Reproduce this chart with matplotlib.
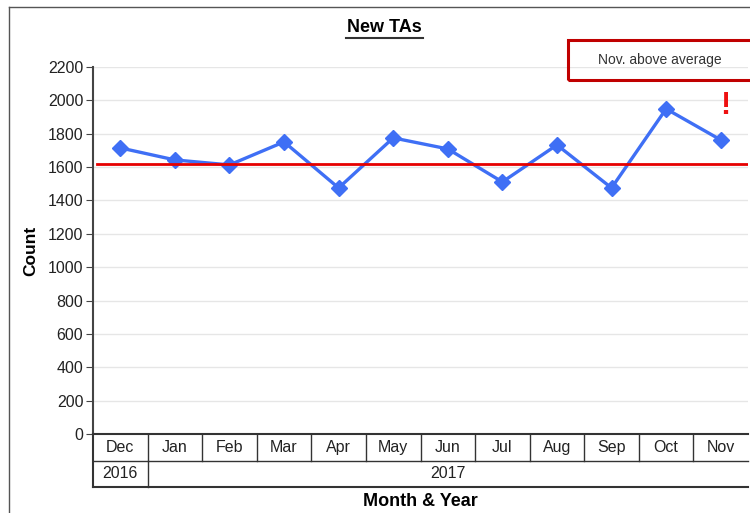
import matplotlib
matplotlib.use("Agg")
import matplotlib.pyplot as plt
from matplotlib.patches import Rectangle
from matplotlib.lines import Line2D

months = ["Dec", "Jan", "Feb", "Mar", "Apr", "May", "Jun", "Jul", "Aug", "Sep", "Oct", "Nov"]
years = ["2016", "2017"]
year_spans = [(0, 1), (1, 12)]   # month index ranges covered by each year
counts = [1715, 1643, 1613, 1751, 1475, 1775, 1709, 1511, 1733, 1475, 1949, 1763]
average = 1620
yticks = list(range(0, 2201, 200))

plt.rcParams['font.family'] = ['Liberation Sans', 'DejaVu Sans']

W, H = 750, 513
fig = plt.figure(figsize=(7.5, 5.13), dpi=100)

def fx(px):
    return px / W

def fy(py):
    return 1 - py / H

# outer frame of the screenshot
fig.add_artist(Line2D([fx(9), fx(9)], [fy(7), 0], color="#555555", lw=1))
fig.add_artist(Line2D([fx(9), 1], [fy(7), fy(7)], color="#555555", lw=1))

# main plot area
x0, x1, ytop, ybot = 93, 748, 67, 434
ax = fig.add_axes([fx(x0), fy(ybot), fx(x1 - x0), (ybot - ytop) / H])
xs = list(range(len(months)))
ax.plot(xs, counts, color="#3f6ff5", lw=2.4, marker="D", markersize=8.5, zorder=3)
ax.axhline(average, color="#e60000", lw=2, xmin=0.006, zorder=4)
ax.set_xlim(-0.5, len(months) - 0.5)
ax.set_ylim(0, 2200)
ax.set_yticks(yticks)
ax.set_yticklabels([str(v) for v in yticks], fontsize=11.5, color="#222222")
ax.tick_params(axis="y", length=5, color="#444444", pad=2)
ax.set_xticks([])
ax.grid(axis="y", color="#e6e6e6", lw=1)
ax.set_axisbelow(True)
for s in ["top", "right", "bottom"]:
    ax.spines[s].set_visible(False)
ax.spines["left"].set_color("#444444")
ax.spines["left"].set_linewidth(1.5)
ax.set_ylabel("Count", fontsize=12.5, fontweight="bold", labelpad=7)

# category table under the plot
tab = fig.add_axes([fx(x0), fy(487), fx(x1 - x0), (487 - ybot) / H])
tab.set_xlim(-0.5, len(months) - 0.5)
tab.set_ylim(0, 2)
tab.axis("off")
lc = "#333333"
tab.plot([-0.5, 11.5], [2, 2], color=lc, lw=1.5, clip_on=False)
tab.plot([-0.5, 11.5], [1, 1], color=lc, lw=1, clip_on=False)
tab.plot([-0.5, 11.5], [0, 0], color=lc, lw=1.5, clip_on=False)
tab.plot([-0.5, -0.5], [0, 2], color=lc, lw=1.5, clip_on=False)
for i in range(1, len(months)):
    tab.plot([i - 0.5, i - 0.5], [1, 2], color=lc, lw=1, clip_on=False)
for i, m in enumerate(months):
    tab.text(i, 1.5, m, ha="center", va="center", fontsize=11.5, color="#222222")
for (a, b), yr in zip(year_spans, years):
    if a > 0:
        tab.plot([a - 0.5, a - 0.5], [0, 1], color=lc, lw=1, clip_on=False)
    tab.text((a + b - 1) / 2, 0.5, yr, ha="center", va="center", fontsize=11.5, color="#222222")

fig.text(fx(420), fy(502), "Month & Year", ha="center", va="center", fontsize=13, fontweight="bold")

# title
fig.text(fx(384), fy(28), "New TAs", ha="center", va="center", fontsize=13, fontweight="bold")
fig.add_artist(Line2D([fx(346), fx(423)], [fy(38), fy(38)], color="#333333", lw=1.5))

# callout box
fig.add_artist(Rectangle((fx(568), fy(80)), fx(190), 40 / H, fill=False, edgecolor="#c00000", lw=2.2, clip_on=False))
fig.text(fx(660), fy(60), "Nov. above average", ha="center", va="center", fontsize=10, color="#333333")
fig.text(fx(725), fy(106), "!", ha="center", va="center", fontsize=22, fontweight="bold", color="#ee1111")

fig.savefig("out.png", dpi=100)
